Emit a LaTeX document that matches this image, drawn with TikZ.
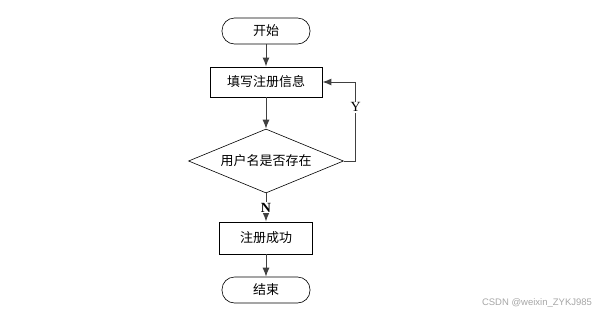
\documentclass[tikz,border=0pt]{standalone}
\usepackage{fontspec}
\setmainfont{Liberation Serif}
\newfontfamily\cjk{Noto Sans CJK SC}
\newfontfamily\wmfont{Liberation Sans}
\usetikzlibrary{positioning,shapes.geometric,arrows.meta}
\tikzset{
 term/.style={draw,line width=0.6pt,rounded corners=12.5pt,minimum width=88pt,minimum height=26pt,inner sep=1pt,font=\cjk\fontsize{13}{15}\selectfont},
 proc/.style={draw,line width=0.9pt,minimum height=30pt,inner sep=1pt,font=\cjk\fontsize{13}{15}\selectfont},
 dec/.style={draw,diamond,aspect=2.4,line width=0.6pt,minimum width=155pt,minimum height=64pt,inner sep=0pt,font=\cjk\fontsize{13}{15}\selectfont},
 flow/.style={-{Latex[length=9pt,width=7pt]},draw=black!75,line width=1pt},
 lbl/.style={fill=white,inner sep=1pt,font=\fontsize{14}{16}\selectfont}
}

\begin{document}
\begin{tikzpicture}[x=1pt,y=-1pt]
	\useasboundingbox (0,0) rectangle (608,314);
	\def\cx{266}
	\node[term] (start) at (\cx,31) {开始};
	\node[proc,minimum width=112pt] (fill) at (\cx,82) {填写注册信息};
	\node[dec] (check) at (\cx,161) {用户名是否存在};
	\node[proc,minimum width=93pt,minimum height=32pt] (ok) at (\cx,238) {注册成功};
	\node[term] (stop) at (\cx,290) {结束};
	\draw[flow] (start) -- (fill);
	\draw[flow] (fill) -- (check);
	\draw[flow] (check) -- node[lbl,font=\bfseries\fontsize{14}{16}\selectfont]{N} (ok);
	\draw[flow] (ok) -- (stop);
	\draw[flow] (check.east) -- ++(12,0) |- node[lbl,pos=0.34]{Y} (fill.east);
	\node[text=black!35,font=\wmfont\fontsize{9.5}{11}\selectfont] (mark) at (537,303) {CSDN @weixin\_ZYKJ985};
\end{tikzpicture}
\end{document}
